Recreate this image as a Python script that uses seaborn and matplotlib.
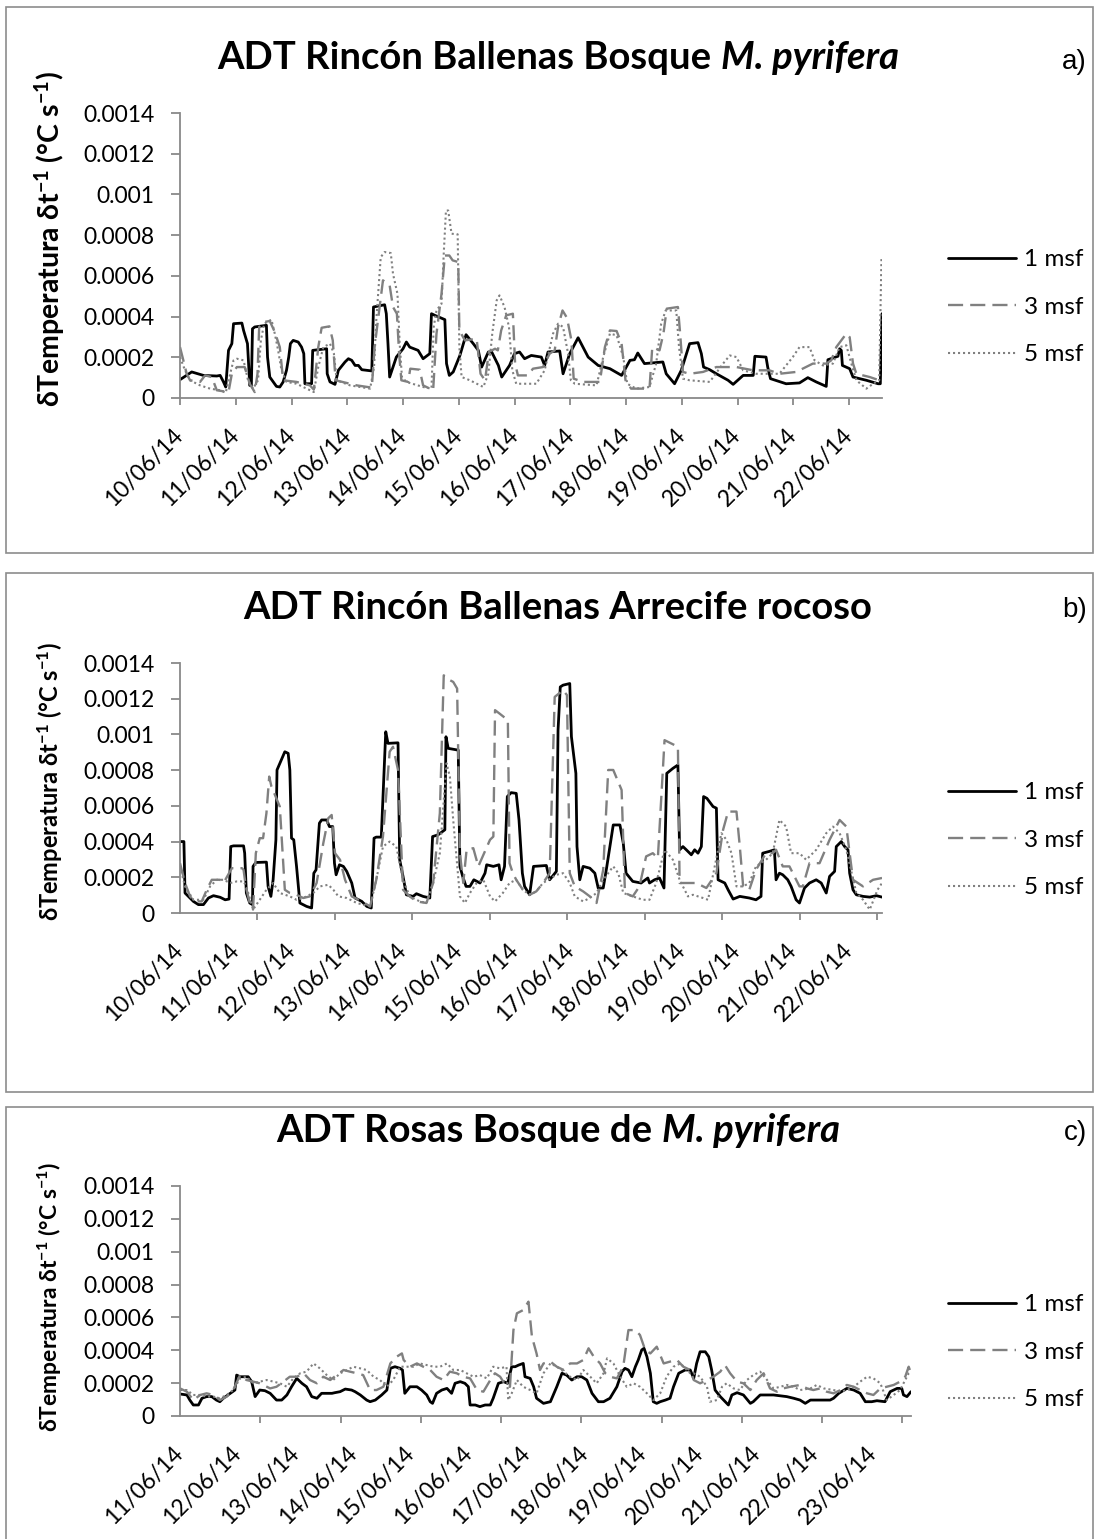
import numpy as np
import pandas as pd
import matplotlib
matplotlib.use("Agg")
import matplotlib.pyplot as plt
import seaborn as sns
from matplotlib.patches import Rectangle
from matplotlib.ticker import MultipleLocator

# ---------------------------------------------------------------------------
# Data: (day since first label, rate in units of 1e-4 degC/s)
# ---------------------------------------------------------------------------
SCALE = 1e-4

a_1msf = [(0.00,0.90),(0.21,1.28),(0.42,1.11),(0.66,1.08),(0.72,1.11),(0.78,0.79),(0.82,0.54),(0.87,2.34),
          (0.93,2.67),(0.96,3.65),(1.11,3.68),(1.14,3.32),(1.21,2.67),(1.24,1.19),(1.25,0.62),(1.28,0.62),
          (1.30,3.40),(1.34,3.49),(1.55,3.57),(1.57,2.01),(1.61,1.03),(1.73,0.57),(1.79,0.54),(1.85,0.79),
          (1.91,1.36),(1.95,2.01),(1.98,2.67),(2.03,2.83),(2.12,2.75),(2.18,2.50),(2.22,2.18),(2.24,0.70),
          (2.36,0.70),(2.38,2.34),(2.63,2.42),(2.64,1.19),(2.69,0.79),(2.78,0.67),(2.84,1.36),(2.96,1.77),
          (3.02,1.93),(3.08,1.85),(3.14,1.60),(3.20,1.60),(3.26,1.39),(3.44,1.33),(3.47,4.47),(3.67,4.58),
          (3.70,4.14),(3.73,2.67),(3.76,1.03),(3.88,2.01),(4.00,2.42),(4.06,2.75),(4.12,2.50),(4.27,2.34),
          (4.36,1.93),(4.48,2.18),(4.51,4.14),(4.57,4.06),(4.75,3.85),(4.78,1.69),(4.83,1.11),(4.90,1.28),
          (5.02,2.09),(5.13,3.11),(5.26,2.67),(5.35,2.34),(5.41,1.52),(5.53,2.26),(5.59,2.26),(5.71,1.60),
          (5.77,1.03),(5.91,1.60),(6.00,2.18),(6.09,2.26),(6.18,1.93),(6.30,2.09),(6.48,2.01),(6.54,1.60),
          (6.60,2.26),(6.81,2.31),(6.87,1.19),(6.99,2.18),(7.14,2.96),(7.32,2.01),(7.50,1.60),(7.71,1.44),
          (7.92,1.11),(8.07,1.85),(8.15,1.88),(8.21,2.21),(8.33,1.69),(8.66,1.77),(8.72,1.19),(8.87,0.70),
          (8.99,1.36),(9.14,2.67),(9.29,2.72),(9.35,2.18),(9.39,1.52),(9.50,1.39),(9.62,1.19),(9.83,0.87),
          (9.92,0.67),(10.10,1.11),(10.28,1.11),(10.31,2.05),(10.51,2.01),(10.54,1.52),(10.59,0.95),
          (10.87,0.70),(11.11,0.74),(11.26,1.00),(11.41,0.79),(11.59,0.57),(11.62,1.88),(11.80,2.05),
          (11.83,2.42),(11.86,2.34),(11.88,1.60),(12.01,1.44),(12.07,1.03),(12.31,0.87),(12.52,0.70),
          (12.56,0.70),(12.59,4.14)]

a_3msf = [(0.00,2.50),(0.06,1.85),(0.12,1.19),(0.18,0.87),(0.36,0.79),(0.45,1.11),(0.57,1.03),(0.66,0.38),
          (0.87,0.29),(0.93,1.19),(1.02,1.52),(1.16,1.52),(1.25,0.70),(1.34,0.29),(1.39,1.19),(1.42,3.49),
          (1.49,3.73),(1.61,3.78),(1.70,3.24),(1.79,2.50),(1.85,0.87),(2.09,0.79),(2.33,0.62),(2.40,0.41),
          (2.48,2.50),(2.54,3.45),(2.68,3.52),(2.74,2.83),(2.79,0.87),(3.17,0.62),(3.44,0.51),(3.49,2.50),
          (3.55,3.81),(3.64,5.78),(3.76,5.53),(3.82,4.47),(3.89,4.14),(3.93,2.18),(3.97,0.87),(4.09,0.79),
          (4.13,1.44),(4.30,1.39),(4.36,0.62),(4.54,0.38),(4.60,3.16),(4.69,5.12),(4.75,7.00),(4.83,7.00),
          (4.89,6.76),(4.99,6.68),(5.01,3.32),(5.11,2.83),(5.32,2.91),(5.39,1.19),(5.47,0.87),(5.54,2.26),
          (5.65,2.42),(5.70,2.34),(5.76,3.32),(5.85,4.06),(5.97,4.14),(6.01,1.69),(6.06,1.11),(6.24,1.11),
          (6.33,1.44),(6.51,1.52),(6.63,2.18),(6.72,2.34),(6.78,3.49),(6.86,4.30),(6.94,3.94),(7.02,2.83),
          (7.06,0.95),(7.23,0.79),(7.53,0.79),(7.62,2.50),(7.71,3.32),(7.83,3.29),(7.92,2.67),(7.99,0.87),
          (8.09,0.46),(8.42,0.46),(8.47,2.50),(8.60,2.34),(8.67,3.16),(8.73,4.39),(8.93,4.47),(8.97,3.16),
          (9.02,1.28),(9.14,1.19),(9.38,1.28),(9.62,1.52),(9.98,1.52),(10.28,1.36),(10.57,1.36),(10.75,1.19),
          (11.05,1.28),(11.35,1.69),(11.59,1.69),(11.68,1.85),(11.77,2.50),(11.95,3.16),(12.01,2.99),
          (12.07,1.69),(12.13,1.19),(12.37,1.03),(12.54,0.87),(12.59,0.87)]

a_5msf = [(0.00,2.01),(0.09,1.36),(0.18,0.87),(0.36,0.62),(0.54,0.46),(0.72,0.38),(0.82,0.26),(0.90,1.19),
          (0.96,1.85),(1.02,1.93),(1.14,1.85),(1.22,0.87),(1.31,0.46),(1.40,0.87),(1.45,2.83),(1.51,3.65),
          (1.64,3.85),(1.70,3.16),(1.76,2.34),(1.82,1.36),(1.91,0.79),(2.09,0.70),(2.27,0.46),(2.40,0.29),
          (2.48,1.52),(2.57,2.50),(2.69,2.67),(2.76,2.18),(2.81,0.87),(3.05,0.62),(3.41,0.46),(3.48,1.52),
          (3.52,3.81),(3.60,6.92),(3.67,7.17),(3.78,7.12),(3.82,6.10),(3.90,5.12),(3.94,2.67),(3.98,1.03),
          (4.06,0.79),(4.36,0.54),(4.51,0.46),(4.55,3.49),(4.60,4.30),(4.69,4.63),(4.73,7.09),(4.77,9.21),
          (4.81,9.21),(4.87,8.07),(4.98,8.04),(5.01,2.50),(5.05,1.03),(5.20,0.87),(5.44,0.54),(5.53,1.19),
          (5.60,3.16),(5.68,4.80),(5.73,5.04),(5.82,4.47),(5.90,3.49),(5.96,1.36),(6.03,0.70),(6.39,0.70),
          (6.54,1.36),(6.69,3.16),(6.78,3.65),(6.87,3.49),(6.96,2.18),(7.01,0.87),(7.08,0.70),(7.47,0.62),
          (7.59,2.01),(7.71,3.16),(7.83,3.08),(7.95,2.01),(8.02,0.70),(8.18,0.46),(8.42,0.54),(8.54,1.69),
          (8.63,3.65),(8.71,4.30),(8.90,4.30),(8.95,2.50),(9.02,0.95),(9.14,0.87),(9.50,0.79),(9.74,1.69),
          (9.86,2.09),(9.98,2.01),(10.10,1.36),(10.33,1.19),(10.75,1.19),(10.99,2.01),(11.11,2.50),
          (11.29,2.50),(11.38,1.85),(11.53,1.60),(11.71,1.69),(11.83,2.50),(11.95,2.59),(12.04,1.69),
          (12.13,0.87),(12.31,0.46),(12.43,0.70),(12.54,0.87),(12.58,6.84),(12.59,6.84)]

b_1msf = [(0.00,4.00),(0.07,4.00),(0.09,1.12),(0.15,0.93),(0.24,0.65),(0.33,0.47),(0.42,0.47),(0.51,0.84),
          (0.60,0.97),(0.72,0.88),(0.81,0.74),(0.88,0.78),(0.91,3.72),(0.96,3.76),(1.14,3.76),(1.16,3.35),
          (1.19,1.12),(1.25,0.56),(1.30,0.47),(1.31,2.61),(1.36,2.83),(1.55,2.85),(1.58,1.49),(1.63,0.93),
          (1.67,1.86),(1.72,4.10),(1.74,8.01),(1.79,8.38),(1.88,9.03),(1.94,8.94),(1.97,8.01),(2.00,4.19),
          (2.04,4.10),(2.09,2.61),(2.15,0.56),(2.27,0.37),(2.36,0.28),(2.40,2.23),(2.44,2.42),(2.50,5.03),
          (2.54,5.21),(2.63,5.21),(2.68,4.84),(2.74,4.84),(2.77,2.79),(2.80,2.14),(2.86,2.70),(2.93,2.61),
          (2.99,2.33),(3.08,1.68),(3.14,0.84),(3.26,0.65),(3.35,0.37),(3.43,0.28),(3.48,4.19),(3.52,4.25),
          (3.61,4.25),(3.69,10.15),(3.73,9.50),(3.91,9.53),(3.94,2.98),(4.00,2.05),(4.06,1.02),(4.18,0.93),
          (4.24,1.08),(4.36,0.93),(4.48,0.84),(4.53,4.28),(4.63,4.38),(4.75,4.66),(4.77,9.87),(4.81,9.22),
          (4.99,9.12),(5.02,2.61),(5.07,2.05),(5.13,1.49),(5.20,1.49),(5.27,1.86),(5.38,1.68),(5.47,2.23),
          (5.50,2.70),(5.62,2.61),(5.72,2.70),(5.76,1.86),(5.82,2.61),(5.87,6.52),(5.94,6.74),(6.03,6.70),
          (6.08,5.21),(6.14,2.23),(6.18,1.49),(6.27,1.02),(6.34,2.61),(6.57,2.66),(6.63,1.86),(6.75,2.33),
          (6.78,10.24),(6.82,12.66),(6.87,12.76),(6.99,12.85),(7.02,9.87),(7.10,7.82),(7.12,3.72),(7.17,1.86),
          (7.23,2.61),(7.35,2.51),(7.44,2.23),(7.50,1.40),(7.59,1.40),(7.65,2.51),(7.77,4.93),(7.89,4.93),
          (7.95,3.91),(8.00,2.23),(8.12,1.77),(8.27,1.68),(8.39,1.96),(8.42,1.68),(8.51,1.86),(8.60,1.96),
          (8.68,1.40),(8.73,7.82),(8.84,8.10),(8.93,8.29),(8.96,3.54),(9.02,3.72),(9.08,3.54),(9.17,3.26),
          (9.23,3.54),(9.29,3.35),(9.35,3.72),(9.39,6.52),(9.45,6.42),(9.56,5.96),(9.62,5.87),(9.65,1.86),
          (9.77,1.68),(9.83,1.30),(9.92,0.78),(10.04,0.93),(10.21,0.84),(10.33,0.74),(10.42,0.93),
          (10.45,3.35),(10.57,3.45),(10.66,3.54),(10.69,1.86),(10.75,2.23),(10.81,2.14),(10.90,1.86),
          (10.96,1.49),(11.05,0.74),(11.11,0.56),(11.20,1.40),(11.29,1.68),(11.41,1.86),(11.50,1.68),
          (11.59,1.12),(11.65,2.05),(11.74,2.33),(11.77,3.72),(11.86,4.00),(11.92,3.72),(11.98,3.54),
          (12.01,2.23),(12.07,1.30),(12.13,1.02),(12.25,0.93),(12.37,0.89),(12.49,0.97),(12.59,0.89)]

b_3msf = [(0.00,2.79),(0.09,1.68),(0.18,0.93),(0.27,0.65),(0.39,0.65),(0.48,1.30),(0.57,1.86),(0.72,1.86),
          (0.78,1.68),(0.93,2.51),(1.11,2.51),(1.14,2.42),(1.18,1.49),(1.25,0.56),(1.31,0.19),(1.36,3.35),
          (1.43,4.19),(1.49,4.19),(1.55,5.59),(1.60,7.64),(1.64,7.08),(1.79,5.96),(1.88,1.30),(1.97,1.12),
          (2.09,1.02),(2.21,0.84),(2.33,0.93),(2.45,1.68),(2.57,3.91),(2.66,5.31),(2.72,5.49),(2.78,3.35),
          (2.87,2.98),(2.96,1.86),(3.08,0.93),(3.26,0.65),(3.41,0.37),(3.52,1.86),(3.64,4.28),(3.76,9.03),
          (3.82,9.31),(3.91,8.01),(4.00,1.30),(4.12,0.93),(4.24,0.65),(4.42,0.56),(4.54,1.68),(4.66,5.59),
          (4.73,13.31),(4.84,13.04),(4.90,12.94),(4.97,12.57),(5.02,3.35),(5.08,1.68),(5.14,3.54),
          (5.26,3.63),(5.35,2.61),(5.56,4.10),(5.62,4.28),(5.65,11.36),(5.73,11.17),(5.88,10.80),(5.91,2.79),
          (5.97,2.23),(6.03,1.86),(6.15,1.30),(6.27,1.02),(6.39,1.21),(6.51,1.68),(6.63,2.23),(6.72,12.10),
          (6.87,12.48),(6.94,12.20),(6.99,2.23),(7.08,1.49),(7.23,1.21),(7.35,0.93),(7.47,0.56),(7.59,2.42),
          (7.68,8.01),(7.77,8.01),(7.92,6.89),(7.98,1.12),(8.12,0.93),(8.24,1.49),(8.36,3.17),(8.48,3.35),
          (8.57,3.07),(8.69,9.68),(8.93,9.31),(8.96,1.68),(9.08,1.68),(9.26,1.68),(9.44,1.40),(9.62,2.23),
          (9.74,4.66),(9.83,5.68),(9.98,5.68),(10.04,3.72),(10.10,1.49),(10.21,1.30),(10.33,2.42),
          (10.51,3.35),(10.63,3.35),(10.69,3.54),(10.81,2.61),(10.93,2.61),(11.11,1.49),(11.17,1.49),
          (11.29,2.79),(11.47,2.79),(11.65,4.10),(11.83,5.21),(11.95,4.84),(12.07,1.86),(12.25,1.49),
          (12.43,1.86),(12.59,1.96)]

b_5msf = [(0.00,2.61),(0.09,1.49),(0.24,0.74),(0.42,0.74),(0.54,1.49),(0.66,1.86),(0.78,1.86),(0.90,1.68),
          (1.02,1.77),(1.14,1.77),(1.19,1.49),(1.31,0.19),(1.43,0.74),(1.55,1.30),(1.67,1.68),(1.79,1.12),
          (1.97,0.93),(2.09,0.74),(2.21,0.84),(2.39,1.12),(2.51,1.49),(2.66,1.58),(2.75,1.30),(2.84,0.93),
          (2.99,0.84),(3.17,0.56),(3.41,0.37),(3.52,1.86),(3.64,3.72),(3.76,4.00),(3.88,3.72),(4.00,1.86),
          (4.12,0.93),(4.30,0.65),(4.42,0.56),(4.54,1.68),(4.66,3.35),(4.78,8.38),(4.84,7.64),(4.90,5.21),
          (5.02,0.93),(5.11,0.56),(5.20,1.12),(5.32,1.68),(5.44,1.86),(5.56,0.93),(5.65,0.65),(5.79,1.12),
          (5.91,1.68),(6.03,1.86),(6.15,1.30),(6.27,1.02),(6.39,1.21),(6.51,1.68),(6.75,2.14),(6.87,2.23),
          (6.99,1.68),(7.08,0.93),(7.23,0.65),(7.35,0.84),(7.47,1.12),(7.59,1.86),(7.77,2.61),(7.86,2.23),
          (7.95,1.12),(8.12,0.93),(8.30,0.74),(8.42,0.74),(8.54,1.68),(8.69,3.54),(8.84,2.98),(8.96,1.86),
          (9.11,0.93),(9.20,1.02),(9.38,0.84),(9.47,0.74),(9.59,2.61),(9.71,4.47),(9.80,4.10),(9.89,3.35),
          (9.98,1.49),(10.10,1.49),(10.21,1.68),(10.33,2.61),(10.51,2.98),(10.63,3.35),(10.75,5.21),
          (10.87,4.84),(10.96,3.35),(11.11,3.35),(11.23,2.98),(11.41,3.54),(11.59,4.47),(11.71,4.84),
          (11.83,4.47),(11.95,3.54),(12.13,1.12),(12.25,0.74),(12.37,0.19),(12.51,1.30),(12.59,1.68)]

c_1msf = [(0.00,1.34),(0.12,1.28),(0.17,0.97),(0.23,0.67),(0.32,0.67),(0.38,1.08),(0.46,1.18),(0.55,1.18),
          (0.63,0.97),(0.69,0.87),(0.75,1.08),(0.87,1.38),(0.95,1.58),(0.98,2.49),(1.04,2.39),(1.18,2.39),
          (1.24,2.09),(1.30,1.18),(1.38,1.58),(1.47,1.54),(1.56,1.38),(1.67,0.97),(1.76,0.97),(1.85,1.28),
          (1.93,1.78),(2.02,2.29),(2.11,1.99),(2.19,1.78),(2.28,1.18),(2.37,1.08),(2.45,1.38),(2.54,1.38),
          (2.63,1.38),(2.68,1.42),(2.77,1.48),(2.86,1.64),(2.97,1.58),(3.03,1.48),(3.12,1.28),(3.23,0.97),
          (3.29,0.87),(3.38,0.97),(3.49,1.28),(3.58,1.58),(3.64,2.90),(3.72,3.00),(3.81,2.90),(3.85,2.80),
          (3.89,1.38),(3.98,1.78),(4.10,1.78),(4.18,1.58),(4.27,1.28),(4.33,0.87),(4.37,0.77),(4.44,1.38),
          (4.53,1.58),(4.62,1.68),(4.70,1.38),(4.76,1.99),(4.85,2.09),(4.93,1.99),(4.99,1.78),(5.02,0.67),
          (5.11,0.67),(5.19,0.57),(5.28,0.67),(5.37,0.67),(5.42,1.08),(5.51,1.99),(5.60,2.09),(5.67,1.99),
          (5.74,3.00),(5.80,3.00),(5.86,3.10),(5.94,3.20),(5.97,2.39),(6.06,2.29),(6.12,1.78),(6.17,1.08),
          (6.29,0.77),(6.41,0.87),(6.52,1.78),(6.61,2.60),(6.69,2.49),(6.78,2.19),(6.87,2.39),(6.95,2.39),
          (7.04,2.19),(7.13,1.38),(7.24,0.87),(7.33,0.87),(7.44,1.08),(7.56,1.78),(7.65,2.70),(7.70,2.90),
          (7.76,2.80),(7.82,2.39),(7.88,3.00),(7.93,3.41),(7.99,4.02),(8.03,4.12),(8.08,3.61),(8.14,2.60),
          (8.19,0.87),(8.25,0.77),(8.31,0.87),(8.40,0.97),(8.48,1.08),(8.54,1.78),(8.63,2.60),(8.74,2.80),
          (8.83,2.80),(8.89,2.29),(8.94,3.20),(9.00,3.91),(9.09,3.91),(9.15,3.61),(9.20,2.80),(9.26,1.58),
          (9.35,1.18),(9.49,0.67),(9.55,1.28),(9.64,1.42),(9.75,1.28),(9.87,0.77),(9.92,0.87),(10.04,1.28),
          (10.27,1.28),(10.50,1.18),(10.62,1.08),(10.73,0.97),(10.82,0.77),(10.91,0.97),(11.25,0.97),
          (11.31,1.08),(11.40,1.38),(11.54,1.68),(11.66,1.58),(11.77,1.38),(11.86,0.87),(11.97,0.87),
          (12.06,0.93),(12.20,0.87),(12.29,1.48),(12.41,1.68),(12.49,1.68),(12.52,1.28),(12.58,1.18),
          (12.65,1.48)]

c_3msf = [(0.00,1.68),(0.12,1.48),(0.23,0.97),(0.35,1.28),(0.46,1.38),(0.58,1.28),(0.69,0.97),(0.81,1.18),
          (0.92,1.58),(1.04,2.49),(1.15,2.19),(1.27,2.09),(1.38,1.99),(1.56,1.68),(1.67,1.78),(1.79,2.09),
          (1.90,2.39),(2.02,2.39),(2.14,2.60),(2.25,2.19),(2.37,1.99),(2.48,2.39),(2.60,2.19),(2.71,2.49),
          (2.83,2.80),(2.94,2.70),(3.06,2.60),(3.17,2.49),(3.29,1.58),(3.40,1.58),(3.52,1.78),(3.64,3.20),
          (3.75,3.61),(3.84,3.81),(3.87,3.41),(3.98,3.00),(4.10,3.20),(4.21,3.00),(4.33,2.80),(4.44,2.39),
          (4.56,2.19),(4.67,2.70),(4.79,2.60),(4.90,2.39),(5.02,2.29),(5.14,1.58),(5.25,1.48),(5.37,2.19),
          (5.45,2.60),(5.54,2.39),(5.65,1.78),(5.71,1.78),(5.77,5.23),(5.83,6.25),(5.94,6.45),(6.03,6.96),
          (6.09,4.83),(6.17,3.81),(6.23,2.80),(6.29,3.20),(6.41,3.31),(6.52,3.00),(6.64,2.80),(6.75,3.20),
          (6.87,3.20),(6.98,3.41),(7.07,4.12),(7.16,3.61),(7.27,3.20),(7.36,2.60),(7.44,2.39),(7.56,2.29),
          (7.67,3.00),(7.76,5.23),(7.88,5.23),(7.96,4.93),(8.05,4.02),(8.14,3.81),(8.25,4.22),(8.37,3.20),
          (8.48,3.31),(8.60,3.41),(8.71,3.00),(8.83,2.80),(8.89,2.19),(9.00,1.99),(9.12,2.19),(9.23,2.39),
          (9.35,2.70),(9.43,3.10),(9.52,2.60),(9.64,2.09),(9.75,1.99),(9.87,1.58),(9.98,2.19),(10.10,2.60),
          (10.21,1.68),(10.33,1.48),(10.44,1.68),(10.56,1.78),(10.73,1.89),(10.85,1.68),(10.96,1.58),
          (11.08,1.68),(11.19,1.48),(11.31,1.38),(11.43,1.58),(11.54,1.89),(11.66,1.78),(11.77,1.58),
          (11.89,1.38),(12.00,1.28),(12.12,1.68),(12.23,1.78),(12.35,1.89),(12.46,2.09),(12.55,2.39),
          (12.61,3.00),(12.65,2.60)]

c_5msf = [(0.00,1.58),(0.12,1.58),(0.23,1.28),(0.35,1.28),(0.46,1.18),(0.58,1.18),(0.69,1.08),(0.81,1.28),
          (0.92,1.58),(1.04,2.29),(1.15,2.39),(1.27,1.99),(1.38,2.09),(1.50,2.19),(1.62,2.09),(1.73,1.99),
          (1.85,1.78),(1.96,2.29),(2.08,2.60),(2.19,2.70),(2.31,3.20),(2.42,2.90),(2.54,2.49),(2.65,2.19),
          (2.77,2.60),(2.89,2.80),(3.00,3.00),(3.12,2.90),(3.23,2.80),(3.35,2.39),(3.46,2.19),(3.58,1.78),
          (3.69,2.19),(3.81,3.00),(3.92,3.00),(4.04,3.00),(4.15,3.20),(4.27,3.10),(4.39,3.00),(4.50,3.00),
          (4.62,3.20),(4.73,2.80),(4.85,2.80),(4.96,2.60),(5.08,2.39),(5.19,2.49),(5.31,2.29),(5.42,3.00),
          (5.54,2.90),(5.65,3.00),(5.68,0.97),(5.74,1.38),(5.83,2.19),(5.94,1.78),(6.06,1.58),(6.17,1.38),
          (6.29,2.60),(6.41,3.20),(6.52,3.00),(6.64,2.70),(6.75,2.39),(6.87,2.19),(6.98,2.80),(7.10,2.39),
          (7.21,1.99),(7.33,2.60),(7.39,3.51),(7.50,3.20),(7.62,2.39),(7.73,1.78),(7.85,1.99),(7.96,1.78),
          (8.08,1.38),(8.19,0.97),(8.31,1.38),(8.42,2.39),(8.54,3.00),(8.66,3.20),(8.77,2.80),(8.83,2.60),
          (8.89,2.60),(9.00,2.39),(9.12,1.78),(9.17,0.87),(9.29,0.97),(9.38,1.78),(9.46,1.99),(9.58,1.68),
          (9.69,1.58),(9.81,2.19),(9.92,2.49),(10.04,2.70),(10.16,2.19),(10.27,1.68),(10.39,1.78),
          (10.50,1.89),(10.62,1.78),(10.73,1.58),(10.91,1.68),(11.02,1.89),(11.14,1.68),(11.31,1.58),
          (11.43,1.48),(11.54,1.58),(11.66,1.78),(11.77,2.09),(11.89,2.39),(12.00,2.29),(12.12,1.99),
          (12.23,0.97),(12.35,1.28),(12.46,1.58),(12.55,2.19),(12.61,2.60),(12.65,2.70)]

series_names = ["1 msf", "3 msf", "5 msf"]

dates_ab = ["10/06/14", "11/06/14", "12/06/14", "13/06/14", "14/06/14", "15/06/14", "16/06/14",
            "17/06/14", "18/06/14", "19/06/14", "20/06/14", "21/06/14", "22/06/14"]
dates_c = ["11/06/14", "12/06/14", "13/06/14", "14/06/14", "15/06/14", "16/06/14", "17/06/14",
           "18/06/14", "19/06/14", "20/06/14", "21/06/14", "22/06/14", "23/06/14"]

y_ticks = [0, 0.0002, 0.0004, 0.0006, 0.0008, 0.0010, 0.0012, 0.0014]
y_tick_labels = ["0", "0.0002", "0.0004", "0.0006", "0.0008", "0.001", "0.0012", "0.0014"]

# ---------------------------------------------------------------------------
# Styling
# ---------------------------------------------------------------------------
sns.set_theme(style="white")
plt.rcParams["font.family"] = ["Lato", "DejaVu Sans"]
plt.rcParams["mathtext.fontset"] = "custom"
plt.rcParams["mathtext.rm"] = "Lato"
plt.rcParams["mathtext.bf"] = "Lato:bold"
plt.rcParams["mathtext.default"] = "bf"
plt.rcParams["text.color"] = "black"
plt.rcParams["axes.labelcolor"] = "black"
plt.rcParams["xtick.color"] = "black"
plt.rcParams["ytick.color"] = "black"

AXIS_GREY = "#898989"
LINE_STYLES = [
    dict(color="black", linewidth=2.0, linestyle="-"),
    dict(color="#808080", linewidth=1.7, linestyle=(0, (6.4, 3.0))),
    dict(color="#808080", linewidth=1.5, linestyle=(0, (1.0, 1.4))),
]

W, H = 1099, 1539
fig = plt.figure(figsize=(W / 100, H / 100), dpi=100)
fig.patch.set_facecolor("white")


def fx(px):
    return px / W


def fy(py):
    return 1 - py / H


renderer = fig.canvas.get_renderer()


def draw_title(parts, y_base, x_center, size):
    """Bold title built from (text, style) pieces, centred on x_center."""
    artists = []
    for text, style in parts:
        t = fig.text(0, fy(y_base), text, fontsize=size, fontweight="bold",
                     fontstyle=style, ha="left", va="baseline", color="black")
        artists.append(t)
    widths = [a.get_window_extent(renderer).width for a in artists]
    total = sum(widths)
    x = x_center - total / 2
    for a, w in zip(artists, widths):
        a.set_x(fx(x))
        x += w


panels = [
    dict(box=(6, 7, 1093, 553), axes=(180, 113, 882, 398), xmax=12.59,
         data=[a_1msf, a_3msf, a_5msf], dates=dates_ab, tick_each_label=True,
         title=[("ADT Rincón Ballenas Bosque\u00a0", "normal"), ("M. pyrifera", "italic")],
         title_y=69, tag_y=69, ylabel_y=239, ylabel_size=20.5, legend_row=257),
    dict(box=(6, 573, 1093, 1092), axes=(180, 663, 882, 913), xmax=12.59,
         data=[b_1msf, b_3msf, b_5msf], dates=dates_ab, tick_each_label=False,
         title=[("ADT Rincón Ballenas Arrecife rocoso", "normal")],
         title_y=619, tag_y=617, ylabel_y=782, ylabel_size=17, legend_row=790),
    dict(box=(6, 1107, 1093, 1560), axes=(180, 1186, 911, 1416), xmax=12.65,
         data=[c_1msf, c_3msf, c_5msf], dates=dates_c, tick_each_label=False,
         title=[("ADT Rosas Bosque de\u00a0", "normal"), ("M. pyrifera", "italic")],
         title_y=1142, tag_y=1140, ylabel_y=1297, ylabel_size=16.5, legend_row=1302),
]
tags = ["a)", "b)", "c)"]

TICK_FS = 16.5
LEGEND_FS = 17.5
LEGEND_ROW_GAP = 48.3  # px between legend entries

for p, tag in zip(panels, tags):
    bx0, by0, bx1, by1 = p["box"]
    fig.patches.append(Rectangle((fx(bx0), fy(by1)), fx(bx1 - bx0), (by1 - by0) / H,
                                 transform=fig.transFigure, fill=False,
                                 edgecolor="#8c8c8c", linewidth=1.2, zorder=0))

    l, t, r, b = p["axes"]
    ax = fig.add_axes([fx(l), fy(b), fx(r - l), (b - t) / H])
    ax.set_facecolor("none")

    for name, pts, style in zip(series_names, p["data"], LINE_STYLES):
        df = pd.DataFrame(pts, columns=["day", "rate"])
        df["rate"] = df["rate"] * SCALE
        sns.lineplot(data=df, x="day", y="rate", ax=ax, estimator=None, sort=False,
                     label=name, legend=False, **style)

    ax.set_xlim(0, p["xmax"])
    ax.set_ylim(0, 0.0014)
    ax.set_xlabel("")
    ax.set_ylabel("")

    for side in ("top", "right"):
        ax.spines[side].set_visible(False)
    for side in ("left", "bottom"):
        ax.spines[side].set_color(AXIS_GREY)
        ax.spines[side].set_linewidth(1.3)

    ax.set_yticks(y_ticks)
    ax.set_yticklabels(y_tick_labels)
    ax.tick_params(axis="y", which="major", direction="out", length=6.5, width=1.3,
                   color=AXIS_GREY, pad=12, labelsize=TICK_FS, labelcolor="black", left=True)

    ax.set_xticks(range(len(p["dates"])))
    ax.set_xticklabels(p["dates"], rotation=45, ha="right", va="center",
                       rotation_mode="anchor")
    if p["tick_each_label"]:
        ax.tick_params(axis="x", which="major", direction="out", length=5, width=1.3,
                       color=AXIS_GREY, pad=19.5, labelsize=TICK_FS, labelcolor="black",
                       bottom=True)
    else:
        ax.tick_params(axis="x", which="major", length=0, pad=24.5, labelsize=TICK_FS,
                       labelcolor="black", bottom=True)
        ax.xaxis.set_minor_locator(MultipleLocator(200 / 144))
        ax.tick_params(axis="x", which="minor", direction="out", length=5, width=1.3,
                       color=AXIS_GREY, bottom=True)

    handles = ax.get_lines()[:3]
    fs_px = LEGEND_FS * 100 / 72
    row_h = 0.9 * fs_px
    leg = ax.legend(handles, series_names, loc="upper left",
                    bbox_to_anchor=(fx(948), fy(p["legend_row"] - 0.31 * fs_px)),
                    bbox_transform=fig.transFigure, frameon=False, borderpad=0,
                    borderaxespad=0, handlelength=68 / fs_px, handletextpad=8 / fs_px,
                    labelspacing=(LEGEND_ROW_GAP - row_h) / fs_px, fontsize=LEGEND_FS)
    for txt in leg.get_texts():
        txt.set_color("black")

    draw_title(p["title"], p["title_y"], 558, 27.5)
    fig.text(fx(1087), fy(p["tag_y"]), tag, fontsize=20, ha="right", va="baseline",
             family=["Liberation Sans", "DejaVu Sans"], color="black")
    fig.text(fx(50), fy(p["ylabel_y"]), r"δTemperatura δt$^{-1}$ (°C s$^{-1}$)",
             rotation=90, ha="center", va="center", fontweight="bold",
             fontsize=p["ylabel_size"], color="black")

fig.savefig("out.png", dpi=100, facecolor="white")
